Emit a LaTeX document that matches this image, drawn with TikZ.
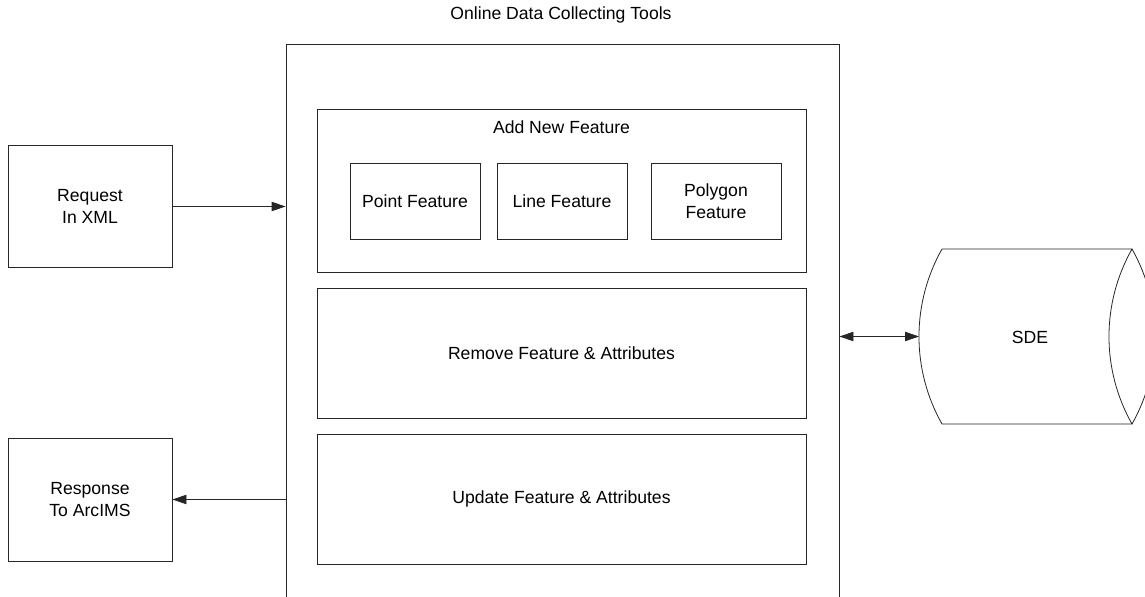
\documentclass[tikz,border=0pt]{standalone}
\usepackage{fontspec}
\setmainfont{Liberation Sans}
\usetikzlibrary{arrows.meta}

\tikzset{
  box/.style={draw=black!85, line width=0.6pt, rectangle, inner sep=0pt, align=center},
  txt/.style={inner sep=0pt, align=center},
  tip/.tip={Triangle[length=10.5pt,width=7pt]},
  arr/.style={draw=black!85, line width=0.6pt, -tip}
}

\begin{document}
\begin{tikzpicture}[x=0.75pt,y=0.75pt,yscale=-1,font=\fontsize{13.2}{16.4}\selectfont]
\clip (0,0) rectangle (1145,596);

% Title
\node [txt] (title) at (561,15) {Online Data Collecting Tools};
%Rectangle: outer box, runs off the bottom
\node [box, minimum width=414.75pt, minimum height=447pt] (tools) at (562.5,342) {};

%Rectangle: add group
\node [box, minimum width=366.75pt, minimum height=122.25pt] (add) at (561.5,190.5) {};
\node [txt] (addlbl) at (561.5,127) {Add New Feature};
\node [box, minimum width=97.5pt, minimum height=57pt] (point) at (415,201) {Point Feature};
\node [box, minimum width=97.5pt, minimum height=57pt] (line) at (562,201) {Line Feature};
\node [box, minimum width=97.5pt, minimum height=57pt] (poly) at (716,201) {Polygon\\Feature};

%Rectangle: remove / update
\node [box, minimum width=366.75pt, minimum height=97.5pt] (remove) at (561.5,353) {Remove Feature \& Attributes};
\node [box, minimum width=366.75pt, minimum height=97.5pt] (update) at (561.5,499) {Update Feature \& Attributes};

%Rectangle: request / response
\node [box, minimum width=123pt, minimum height=91.5pt] (request) at (90,206.5) {Request\\In XML};
\node [box, minimum width=123pt, minimum height=92.25pt] (response) at (90,499.5) {Response\\To ArcIMS};

%Data store: SDE
\draw [black!85, line width=0.6pt] (942,249) -- (1132,249)
  .. controls (1101.3,303.3) and (1101.3,369.7) .. (1132,424) -- (942,424)
  .. controls (911.3,369.7) and (911.3,303.3) .. (942,249) ;
\draw [black!85, line width=0.6pt] (1132,249) .. controls (1162.7,303.3) and (1162.7,369.7) .. (1132,424) ;
\coordinate (sdeW) at (919,336.5);
\node [txt] (sde) at (1030,337) {SDE};

% Connectors
\draw [arr] (request.east) -- (request.east -| tools.west);
\draw [arr] (response.east -| tools.west) -- (response.east);
\draw [arr, tip-tip] (sdeW -| tools.east) -- (sdeW);

\end{tikzpicture}
\end{document}
